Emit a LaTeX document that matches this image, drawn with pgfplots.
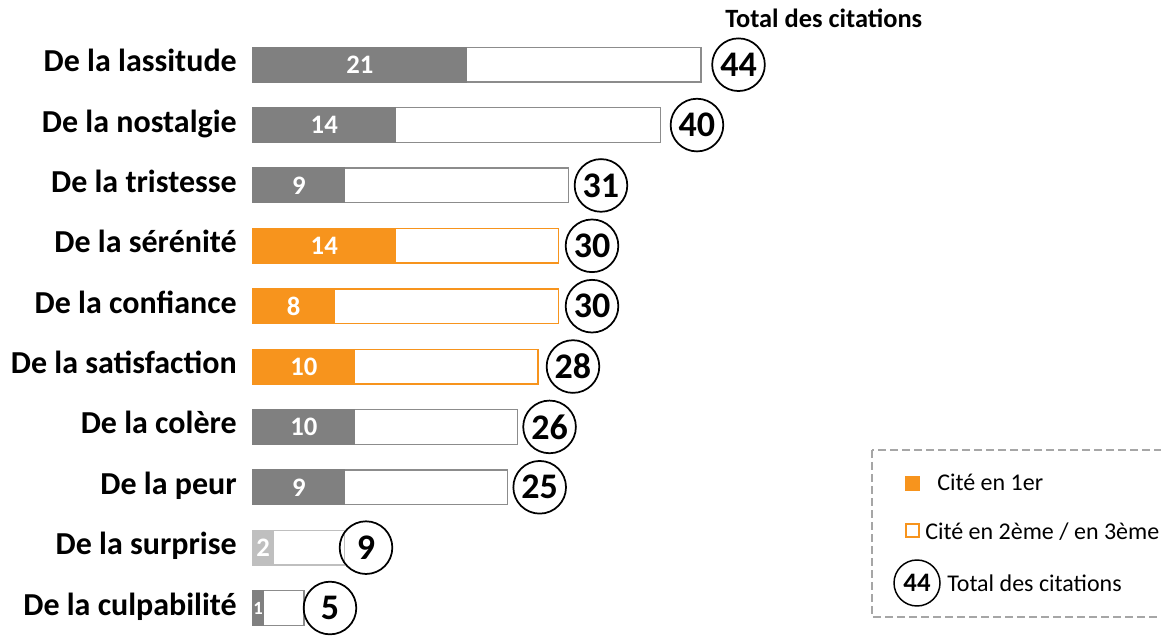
\documentclass[border=0pt]{standalone}
\usepackage{pgfplots}
\pgfplotsset{compat=1.18}
\usepackage{pgfplotstable}
\usepackage{fontspec}
\setmainfont{Carlito}

\definecolor{barGray}{HTML}{808080}
\definecolor{edgeGray}{HTML}{8C8C8C}
\definecolor{barOrange}{HTML}{F7941D}
\definecolor{barLight}{HTML}{BFBFBF}
\definecolor{boxGray}{HTML}{A6A6A6}

% y position (9 = top row), cited first, total citations, x of the total's circle
\pgfplotstableread{
y first total cx
9 21 44 47.69
8 14 40 43.61
7 9 31 34.18
6 14 30 33.30
5 8 30 33.30
4 10 28 31.43
3 10 26 29.13
2 9 25 28.16
1 2 9 11.10
0 1 5 7.56
}\citations

\begin{document}
\begin{tikzpicture}
\begin{axis}[
    scale only axis,
    width=681pt, height=476.25pt,
    xmin=0, xmax=89.19,
    ymin=-0.447, ymax=10.072,
    clip=false,
    axis line style={draw=none},
    tick style={draw=none},
    xtick=\empty,
    ytick={0,...,9},
    yticklabels={De la culpabilité, De la surprise, De la peur, De la colère,
        De la satisfaction, De la confiance, De la sérénité, De la tristesse,
        De la nostalgie, De la lassitude},
    yticklabel style={font=\bfseries\fontsize{24}{24}\selectfont, anchor=base east,
        inner sep=0pt, xshift=-12pt, yshift=-5.3pt},
    /pgf/number format/assume math mode=true,
]
\coordinate (O) at (rel axis cs:0,1);
\coordinate (BR) at (rel axis cs:1,0);

% total bars (white part)
\addplot[xbar, bar width=26pt, bar shift=0pt, fill=white, draw=edgeGray, line width=1pt]
    coordinates {(44,9) (40,8) (31,7) (26,3) (25,2) (5,0)};
\addplot[xbar, bar width=26pt, bar shift=0pt, fill=white, draw=barOrange, line width=1pt]
    coordinates {(30,6) (30,5) (28,4)};
\addplot[xbar, bar width=26pt, bar shift=0pt, fill=white, draw=barLight, line width=1pt]
    coordinates {(9,1)};

% cited first
\addplot[xbar, bar width=26pt, bar shift=0pt, fill=barGray, draw=barGray, line width=1pt]
    coordinates {(21,9) (14,8) (9,7) (10,3) (9,2) (1,0)};
\addplot[xbar, bar width=26pt, bar shift=0pt, fill=barOrange, draw=barOrange, line width=1pt]
    coordinates {(14,6) (8,5) (10,4)};
\addplot[xbar, bar width=26pt, bar shift=0pt, fill=barLight, draw=barLight, line width=1pt]
    coordinates {(2,1)};

% labels inside bars
\addplot[only marks, mark=none, nodes near coords, point meta=explicit,
    skip coords between index={9}{10},
    every node near coord/.append style={anchor=center, text=white, inner sep=0pt,
        font=\bfseries\fontsize{20}{20}\selectfont}]
    table[x expr=\thisrow{first}/2, y=y, meta=first] {\citations};
\addplot[only marks, mark=none, nodes near coords, point meta=explicit,
    skip coords between index={0}{9},
    every node near coord/.append style={anchor=center, text=white, inner sep=0pt,
        font=\bfseries\fontsize{14}{14}\selectfont}]
    table[x expr=\thisrow{first}/2, y=y, meta=first] {\citations};

% totals in circles
\addplot[only marks, mark=none, nodes near coords, point meta=explicit,
    every node near coord/.append style={anchor=center, draw=black, circle,
        line width=1.3pt, minimum size=39.5pt, inner sep=0pt, text=black,
        font=\bfseries\fontsize{27}{27}\selectfont}]
    table[x=cx, y=y, meta=total] {\citations};
\end{axis}

% header and legend, in pixel units from the top left corner
\begin{scope}[shift={([xshift=-189.75pt]O)}, x=0.75pt, y=-0.75pt]
\node[anchor=base west, inner sep=0pt, font=\bfseries\fontsize{19.8}{19.8}\selectfont]
    at (725,28) {Total des citations};
\draw[boxGray, line width=1.3pt, dash pattern=on 6pt off 3pt] (872,450) rectangle (1180,617);
\fill[barOrange] (905,476) rectangle (920,491);
\node[anchor=base west, inner sep=0pt, font=\fontsize{18}{18}\selectfont]
    at (937,490.5) {Cité en 1er};
\draw[barOrange, line width=1.3pt] (905.8,523.8) rectangle (919.2,537.2);
\node[anchor=base west, inner sep=0pt, font=\fontsize{18}{18}\selectfont]
    at (925,539) {Cité en 2ème / en 3ème};
\node[circle, draw=black, line width=1.1pt, minimum size=34.5pt, inner sep=0pt,
    font=\bfseries\fontsize{20}{20}\selectfont] at (917,583) {44};
\node[anchor=base west, inner sep=0pt, font=\fontsize{18}{18}\selectfont]
    at (947,591.7) {Total des citations};
\end{scope}

\pgfresetboundingbox
\path[use as bounding box] ([xshift=-189.75pt]O) rectangle (BR);
\end{tikzpicture}
\end{document}
